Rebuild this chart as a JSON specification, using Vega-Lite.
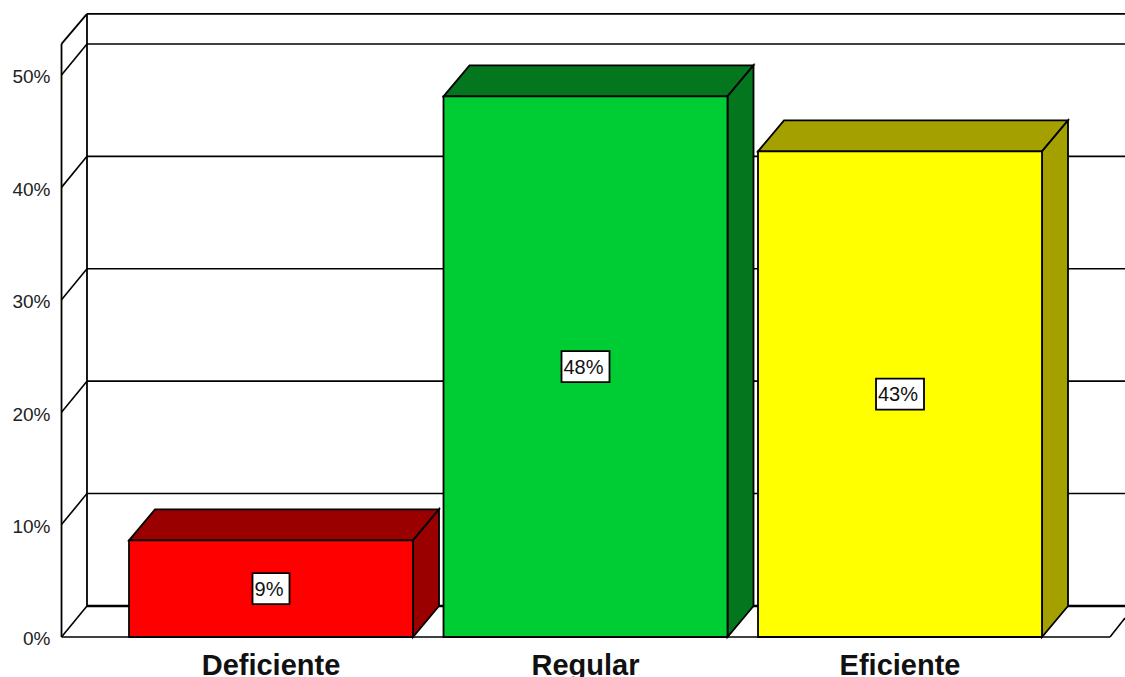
{
  "$schema": "https://vega.github.io/schema/vega-lite/v6.json",
  "width": 1125,
  "height": 677,
  "padding": 0,
  "autosize": {"type": "none"},
  "background": "white",
  "config": {"view": {"stroke": null}},
  "data": {"values": [{"marco": "caja"}]},
  "datasets": {
    "barras": [
      {"categoria": "Deficiente", "orden": 1, "valor": 8.6},
      {"categoria": "Regular", "orden": 2, "valor": 48.1},
      {"categoria": "Eficiente", "orden": 3, "valor": 43.2}
    ],
    "marcas": [
      {"marca": 0}, {"marca": 10}, {"marca": 20}, {"marca": 30}, {"marca": 40}, {"marca": 50}
    ]
  },
  "encoding": {
    "x": {"type": "quantitative", "scale": {"domain": [0.1383, 3.7154], "nice": false, "zero": false}, "axis": null},
    "y": {
      "type": "quantitative",
      "scale": {"domain": [-3.559, 56.67], "nice": false, "zero": false},
      "axis": {
        "orient": "left",
        "title": null,
        "values": [0, 10, 20, 30, 40, 50],
        "labelExpr": "datum.value + '%'",
        "domain": false,
        "ticks": false,
        "grid": false,
        "offset": -61,
        "labelPadding": 11,
        "labelOffset": 2,
        "labelFont": "Liberation Sans",
        "labelFontSize": 19,
        "labelColor": "#222222"
      }
    }
  },
  "layer": [
    {
      "description": "Back-wall gridlines",
      "data": {"name": "marcas"},
      "transform": [{"calculate": "datum.marca + 2.76", "as": "fondo"}],
      "mark": {"type": "rule", "stroke": "black", "strokeWidth": 1.6},
      "encoding": {
        "x": {"datum": 0.4149},
        "x2": {"datum": 3.7154},
        "y": {"field": "fondo"}
      }
    },
    {
      "description": "Slanted ticks across the side wall",
      "data": {"name": "marcas"},
      "transform": [{"calculate": "datum.marca + 2.76", "as": "fondo"}],
      "mark": {"type": "rule", "stroke": "black", "strokeWidth": 1.6},
      "encoding": {
        "x": {"datum": 0.3339},
        "x2": {"datum": 0.4149},
        "y": {"field": "marca"},
        "y2": {"field": "fondo"}
      }
    },
    {
      "description": "Front edge of the side wall",
      "mark": {"type": "rule", "stroke": "black", "strokeWidth": 1.8},
      "encoding": {"x": {"datum": 0.3339}, "y": {"datum": 0}, "y2": {"datum": 52.76}}
    },
    {
      "description": "Rear corner of the box",
      "mark": {"type": "rule", "stroke": "black", "strokeWidth": 1.8},
      "encoding": {"x": {"datum": 0.4149}, "y": {"datum": 2.76}, "y2": {"datum": 55.43}}
    },
    {
      "description": "Upper slant of the side wall",
      "mark": {"type": "rule", "stroke": "black", "strokeWidth": 1.8},
      "encoding": {"x": {"datum": 0.3339}, "x2": {"datum": 0.4149}, "y": {"datum": 52.76}, "y2": {"datum": 55.43}}
    },
    {
      "description": "Top edge of the back wall",
      "mark": {"type": "rule", "stroke": "black", "strokeWidth": 1.8},
      "encoding": {"x": {"datum": 0.4149}, "x2": {"datum": 3.7154}, "y": {"datum": 55.43}}
    },
    {
      "description": "Heavy rear edge of the floor",
      "mark": {"type": "rule", "stroke": "black", "strokeWidth": 2.6},
      "encoding": {"x": {"datum": 0.4149}, "x2": {"datum": 3.7154}, "y": {"datum": 2.76}}
    },
    {
      "description": "Front edge of the floor",
      "mark": {"type": "rule", "stroke": "black", "strokeWidth": 1.6},
      "encoding": {"x": {"datum": 0.3339}, "x2": {"datum": 3.6677}, "y": {"datum": 0}}
    },
    {
      "description": "Right slant of the floor",
      "mark": {"type": "rule", "stroke": "black", "strokeWidth": 1.6},
      "encoding": {"x": {"datum": 3.6677}, "x2": {"datum": 3.7154}, "y": {"datum": 0}, "y2": {"datum": 1.7}}
    },
    {
      "description": "Top faces of the extruded bars",
      "data": {"name": "barras"},
      "transform": [
        {"calculate": "[0, 1, 2, 3]", "as": "paso"},
        {"flatten": ["paso"]},
        {"calculate": "datum.orden - 0.4515 + [0, 0.0827, 0.903, 0.9857][datum.paso]", "as": "px"},
        {"calculate": "datum.valor + [0, 2.76, 2.76, 2.76][datum.paso]", "as": "alto"},
        {"calculate": "datum.valor + [0, 0, 0, 2.76][datum.paso]", "as": "bajo"}
      ],
      "mark": {"type": "area", "stroke": "black", "strokeWidth": 1.8, "opacity": 1},
      "encoding": {
        "x": {"field": "px"},
        "y": {"field": "alto", "stack": null},
        "y2": {"field": "bajo"},
        "color": {
          "field": "categoria",
          "type": "nominal",
          "legend": null,
          "scale": {"domain": ["Deficiente", "Regular", "Eficiente"], "range": ["#9a0000", "#04761d", "#a3a000"]}
        }
      }
    },
    {
      "description": "Right-hand side faces of the extruded bars",
      "data": {"name": "barras"},
      "transform": [
        {"calculate": "[0, 1]", "as": "paso"},
        {"flatten": ["paso"]},
        {"calculate": "datum.orden + 0.4515 + datum.paso * 0.0827", "as": "px"},
        {"calculate": "datum.valor + datum.paso * 2.76", "as": "alto"},
        {"calculate": "datum.paso * 2.76", "as": "bajo"}
      ],
      "mark": {"type": "area", "stroke": "black", "strokeWidth": 1.8, "opacity": 1},
      "encoding": {
        "x": {"field": "px"},
        "y": {"field": "alto", "stack": null},
        "y2": {"field": "bajo"},
        "color": {
          "field": "categoria",
          "type": "nominal",
          "legend": null,
          "scale": {"domain": ["Deficiente", "Regular", "Eficiente"], "range": ["#9a0000", "#04761d", "#a3a000"]}
        }
      }
    },
    {
      "description": "Front faces of the bars",
      "data": {"name": "barras"},
      "transform": [
        {"calculate": "datum.orden - 0.4515", "as": "izq"},
        {"calculate": "datum.orden + 0.4515", "as": "der"}
      ],
      "mark": {"type": "rect", "stroke": "black", "strokeWidth": 1.8},
      "encoding": {
        "x": {"field": "izq"},
        "x2": {"field": "der"},
        "y": {"field": "valor"},
        "y2": {"datum": 0},
        "fill": {
          "field": "categoria",
          "type": "nominal",
          "legend": null,
          "scale": {"domain": ["Deficiente", "Regular", "Eficiente"], "range": ["#ff0000", "#00cc33", "#ffff00"]}
        }
      }
    },
    {
      "description": "Boxes behind the percentage labels",
      "data": {"name": "barras"},
      "transform": [
        {"calculate": "format(datum.valor, '.0f') + '%'", "as": "etiqueta"},
        {"calculate": "length(datum.etiqueta) > 2 ? 0.0763 : 0.0588", "as": "mitad"},
        {"calculate": "datum.orden - datum.mitad", "as": "izq"},
        {"calculate": "datum.orden + datum.mitad", "as": "der"},
        {"calculate": "datum.valor / 2 + 1.38", "as": "alto"},
        {"calculate": "datum.valor / 2 - 1.38", "as": "bajo"}
      ],
      "mark": {"type": "rect", "fill": "white", "stroke": "black", "strokeWidth": 1.8},
      "encoding": {
        "x": {"field": "izq"},
        "x2": {"field": "der"},
        "y": {"field": "alto"},
        "y2": {"field": "bajo"}
      }
    },
    {
      "description": "Percentage labels, rounded from each bar's value",
      "data": {"name": "barras"},
      "transform": [
        {"calculate": "format(datum.valor, '.0f') + '%'", "as": "etiqueta"},
        {"calculate": "datum.valor / 2", "as": "centro"}
      ],
      "mark": {"type": "text", "font": "Liberation Sans", "fontSize": 20, "color": "#111111", "align": "center", "baseline": "middle", "dx": -2, "dy": 1},
      "encoding": {
        "x": {"field": "orden"},
        "y": {"field": "centro"},
        "text": {"field": "etiqueta", "type": "nominal"}
      }
    },
    {
      "description": "Category names under the bars",
      "data": {"name": "barras"},
      "mark": {"type": "text", "font": "Liberation Sans", "fontSize": 29, "fontWeight": "bold", "color": "#111111", "align": "center", "baseline": "middle"},
      "encoding": {
        "x": {"field": "orden"},
        "y": {"datum": -2.55},
        "text": {"field": "categoria", "type": "nominal"}
      }
    }
  ]
}
